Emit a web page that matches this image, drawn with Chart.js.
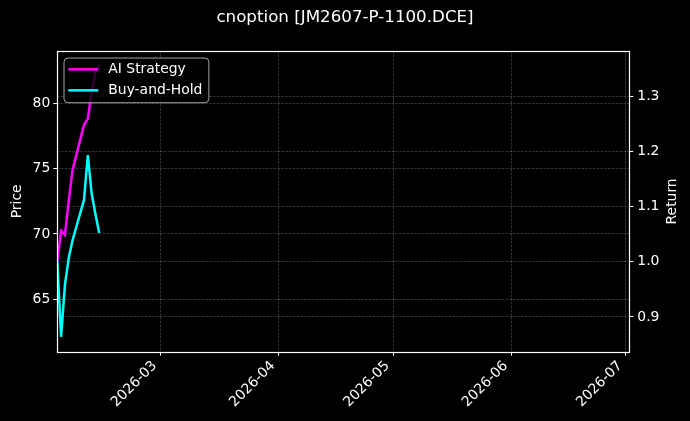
<!DOCTYPE html>
<html>
<head>
<meta charset="utf-8">
<script src="https://cdn.jsdelivr.net/npm/chart.js@4.4.1/dist/chart.umd.min.js"></script>
<style>
  html, body { margin: 0; padding: 0; background: #000; }
  #wrap { width: 690px; height: 421px; }
</style>
</head>
<body>
<div id="wrap"><canvas id="chart"></canvas></div>
<script>
// Data
const chartTitle = "cnoption [JM2607-P-1100.DCE]";
const dates = ["2026-02-02", "2026-02-03", "2026-02-04", "2026-02-05", "2026-02-06",
               "2026-02-09", "2026-02-10", "2026-02-11", "2026-02-12", "2026-02-13"];
const aiStrategy = [1.000, 1.056, 1.049, 1.110, 1.166, 1.248, 1.259, 1.307, 1.344, 1.356];
const buyAndHold = [1.000, 0.864, 0.958, 1.007, 1.039, 1.112, 1.193, 1.124, 1.086, 1.052];
const monthTicks = ["2026-03", "2026-04", "2026-05", "2026-06", "2026-07"];
const priceTicks = [65, 70, 75, 80];
const returnTicks = [0.9, 1.0, 1.1, 1.2, 1.3];

const FONT = '"DejaVu Sans", "Liberation Sans", sans-serif';
const GRID = "rgba(255,255,255,0.28)";

const toTime = (s) => {
  const [y, m, d] = s.split("-").map(Number);
  return Date.UTC(y, m - 1, d || 1);
};
const fmtMonth = (v) => {
  const d = new Date(v);
  return d.getUTCFullYear() + "-" + String(d.getUTCMonth() + 1).padStart(2, "0");
};

// frame around the plot area, right axis label and legend box like matplotlib's
const framePlugin = {
  id: "frame",
  afterDatasetsDraw(chart) {
    const ctx = chart.ctx;
    const a = chart.chartArea;
    ctx.save();
    ctx.strokeStyle = "#fff";
    ctx.lineWidth = 1.2;
    ctx.strokeRect(Math.round(a.left) + 0.5, Math.round(a.top) + 0.5,
                   Math.round(a.right - a.left), Math.round(a.bottom - a.top));

    // right axis label reads bottom to top, as in matplotlib
    ctx.font = "13.9px " + FONT;
    ctx.fillStyle = "#fff";
    ctx.textAlign = "center";
    ctx.textBaseline = "middle";
    ctx.translate(chart.width - 17.2, (a.top + a.bottom) / 2);
    ctx.rotate(-Math.PI / 2);
    ctx.fillText(chart.options.scales.yR.title.text, 0, 0);
    ctx.setTransform(1, 0, 0, 1, 0, 0);
    ctx.restore();

    // legend
    ctx.save();
    const sets = chart.data.datasets;
    ctx.font = "13.9px " + FONT;
    const textW = Math.max(...sets.map((d) => ctx.measureText(d.label).width));
    const x0 = a.left + 6.7, y0 = a.top + 7;
    const w = 44.3 + textW + 6.5, h = 44.7, r = 4;
    ctx.beginPath();
    ctx.moveTo(x0 + r, y0);
    ctx.arcTo(x0 + w, y0, x0 + w, y0 + h, r);
    ctx.arcTo(x0 + w, y0 + h, x0, y0 + h, r);
    ctx.arcTo(x0, y0 + h, x0, y0, r);
    ctx.arcTo(x0, y0, x0 + w, y0, r);
    ctx.closePath();
    ctx.fillStyle = "rgba(0,0,0,0.8)";
    ctx.fill();
    ctx.lineWidth = 1;
    ctx.strokeStyle = "rgba(204,204,204,0.8)";
    ctx.stroke();
    sets.forEach((d, i) => {
      const yy = y0 + 11.3 + i * 21;
      ctx.strokeStyle = d.borderColor;
      ctx.lineWidth = 2.5;
      ctx.beginPath();
      ctx.moveTo(x0 + 4.3, yy);
      ctx.lineTo(x0 + 34.3, yy);
      ctx.stroke();
      ctx.fillStyle = "#fff";
      ctx.textBaseline = "middle";
      ctx.textAlign = "left";
      ctx.fillText(d.label, x0 + 44.3, yy);
    });
    ctx.restore();
  },
};

const tickFont = { family: FONT, size: 13.9 };

new Chart(document.getElementById("chart"), {
  type: "line",
  data: {
    datasets: [
      {
        label: "AI Strategy",
        data: dates.map((d, i) => ({ x: toTime(d), y: aiStrategy[i] })),
        borderColor: "#ff00ff",
        borderWidth: 2.5,
        pointRadius: 0,
        tension: 0,
        yAxisID: "yR",
      },
      {
        label: "Buy-and-Hold",
        data: dates.map((d, i) => ({ x: toTime(d), y: buyAndHold[i] })),
        borderColor: "#00ffff",
        borderWidth: 2.5,
        pointRadius: 0,
        tension: 0,
        yAxisID: "yR",
      },
    ],
  },
  options: {
    responsive: true,
    maintainAspectRatio: false,
    animation: false,
    layout: { padding: 0 },
    plugins: {
      legend: { display: false },
      tooltip: { enabled: false },
      title: {
        display: true,
        text: chartTitle,
        color: "#fff",
        font: { family: FONT, size: 16.7, weight: "normal" },
        padding: { top: 8, bottom: 23 },
      },
    },
    scales: {
      x: {
        type: "linear",
        min: toTime("2026-02-02"),
        max: Date.UTC(2026, 6, 1, 22),
        afterBuildTicks: (s) => { s.ticks = monthTicks.map((m) => ({ value: toTime(m) })); },
        afterFit: (s) => { s.height = 69.3; },
        ticks: {
          color: "#fff",
          font: tickFont,
          autoSkip: false,
          minRotation: 45,
          maxRotation: 45,
          padding: 2,
          labelOffset: -5.7,
          callback: (v) => fmtMonth(v),
        },
        grid: { color: GRID, lineWidth: 0.7, tickColor: "#fff", tickLength: 4, tickWidth: 1 },
        border: { display: false, dash: [2.6, 1.2] },
      },
      yP: {
        type: "linear",
        position: "left",
        min: 60.99,
        max: 84.0,
        afterBuildTicks: (s) => { s.ticks = priceTicks.map((v) => ({ value: v })); },
        afterFit: (s) => { s.width = 57.3; },
        title: { display: true, text: "Price", color: "#fff", font: tickFont, padding: { top: 9, bottom: 0 } },
        ticks: { color: "#fff", font: tickFont, padding: 3 },
        grid: { color: GRID, lineWidth: 0.7, tickColor: "#fff", tickLength: 4, tickWidth: 1 },
        border: { display: false, dash: [2.6, 1.2] },
      },
      yR: {
        type: "linear",
        position: "right",
        min: 0.837,
        max: 1.3817,
        afterBuildTicks: (s) => { s.ticks = returnTicks.map((v) => ({ value: v })); },
        afterFit: (s) => { s.width = 60.7; },
        // drawn by the frame plugin so it can read bottom to top
        title: { display: false, text: "Return" },
        ticks: { color: "#fff", font: tickFont, padding: 4, callback: (v) => v.toFixed(1) },
        grid: { color: GRID, lineWidth: 0.7, tickColor: "#fff", tickLength: 4, tickWidth: 1 },
        border: { display: false, dash: [2.6, 1.2] },
      },
    },
  },
  plugins: [framePlugin],
});
</script>
</body>
</html>
